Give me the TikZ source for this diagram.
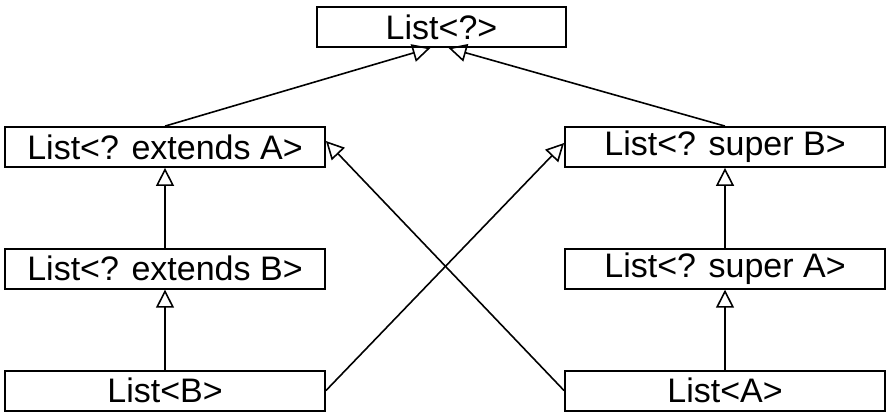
\documentclass[tikz,border=0pt]{standalone}
\usepackage{fontspec}
\setmainfont{Liberation Sans}
\usetikzlibrary{arrows.meta, positioning}
\tikzset{
    typebox/.style={rectangle, draw=black, line width=0.9pt, minimum width=160pt, minimum height=20pt, inner sep=0pt, align=center, font=\fontsize{17}{20}\selectfont},
    topbox/.style={typebox, minimum width=124.5pt},
    arrow/.style={line width=0.8pt, -{Triangle[open, length=9pt, width=9pt]}}
}

\begin{document}
\begin{tikzpicture}[node distance=40pt]
    \useasboundingbox (0pt,0pt) rectangle (446pt,-207pt);
    \node (wild) [topbox] at (220.75pt,-13.5pt) {List<?>};
    \node (extA) [typebox] at (82.5pt,-73.5pt) {List<? extends A>};
    \node (extB) [typebox, below=of extA] {List<? extends B>};
    \node (listB) [typebox, below=of extB] {List<B>};
    \node (supB) [typebox] at (362.5pt,-73.5pt) {List<? super B>};
    \node (supA) [typebox, below=of supB] {List<? super A>};
    \node (listA) [typebox, below=of supA] {List<A>};

    \coordinate (inL) at ([xshift=-5.5pt]wild.south);
    \coordinate (inR) at ([xshift=3.5pt]wild.south);

    \draw [arrow] (extA.north) -- (inL);
    \draw [arrow] (supB.north) -- (inR);
    \draw [arrow] (extB) -- (extA);
    \draw [arrow] (listB) -- (extB);
    \draw [arrow] (supA) -- (supB);
    \draw [arrow] (listA) -- (supA);
    \draw [arrow] (listB.east) -- ([yshift=2pt]supB.west);
    \draw [arrow] (listA.west) -- ([yshift=3pt]extA.east);
\end{tikzpicture}
\end{document}
